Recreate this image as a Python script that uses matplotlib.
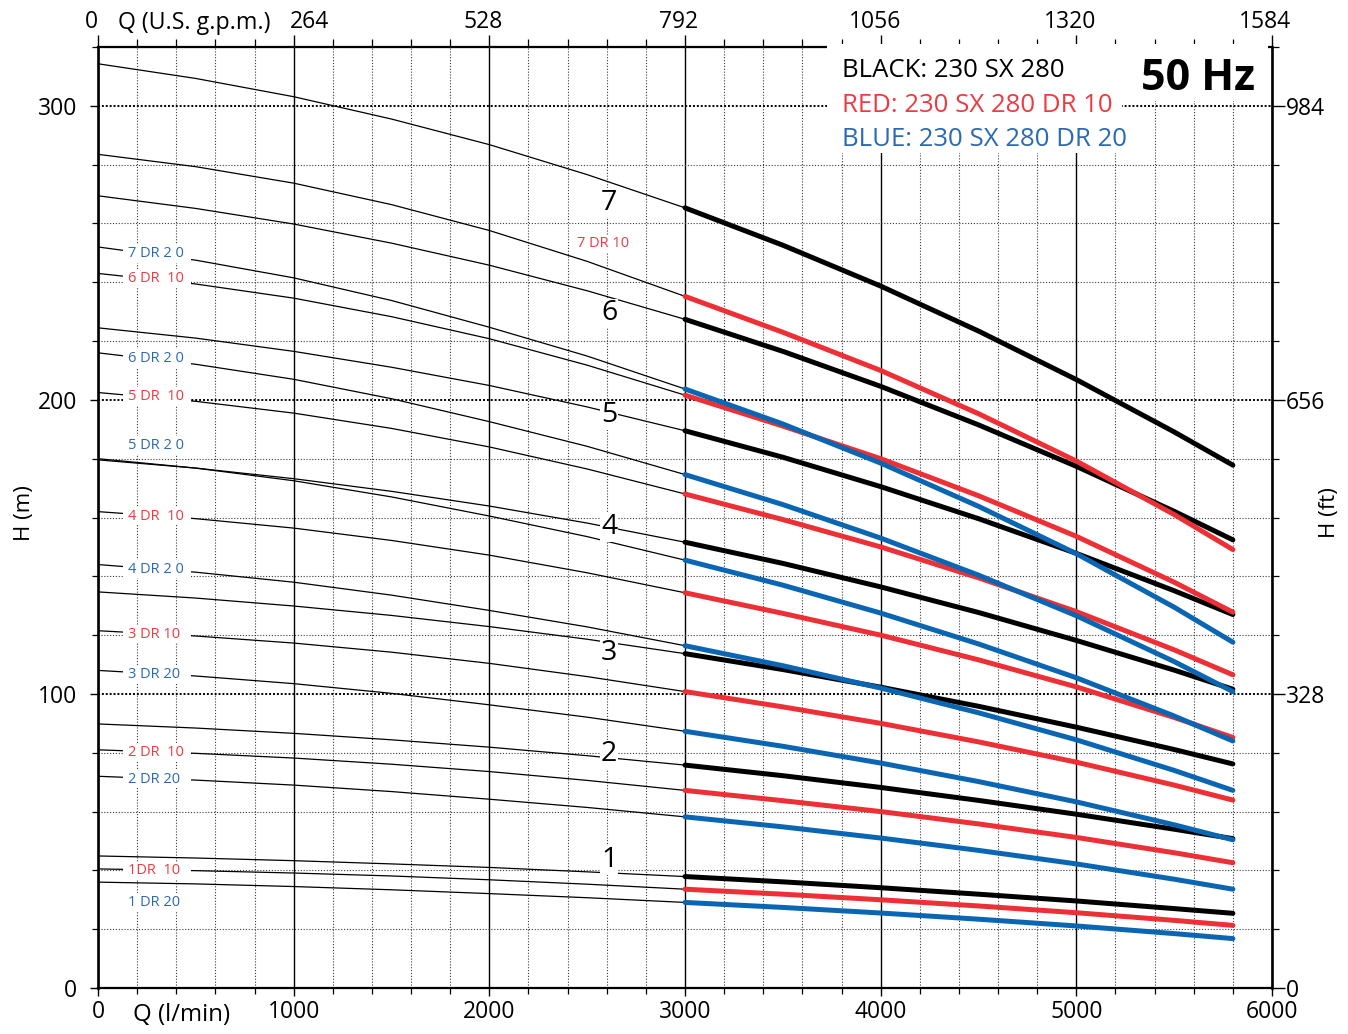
import numpy as np
import matplotlib
matplotlib.use("Agg")
import matplotlib.pyplot as plt
import matplotlib.transforms as mtransforms
from matplotlib.patches import Rectangle
from matplotlib.ticker import MultipleLocator, FixedLocator

plt.rcParams['font.family'] = ['Open Sans', 'DejaVu Sans']

### Data ###
q_lmin = [0, 500, 1000, 1500, 2000, 2500, 3000, 3500, 4000, 4500, 5000, 5500, 5800]
q_split = 3000          # thin black part below, thick coloured part above
stages = [1, 2, 3, 4, 5, 6, 7]

# BLACK: 230 SX 280, one row per number of stages (1..7), head in m
black_h = [
    [44.9, 44.2, 43.3, 42.2, 41.0, 39.5, 37.9, 36.1, 34.1, 31.9, 29.6, 27.0, 25.4],
    [89.8, 88.4, 86.6, 84.4, 81.9, 79.0, 75.8, 72.2, 68.2, 63.8, 59.1, 54.0, 50.8],
    [134.7, 132.6, 129.9, 126.7, 122.9, 118.6, 113.7, 108.3, 102.3, 95.8, 88.7, 81.1, 76.2],
    [179.6, 176.8, 173.2, 168.9, 163.9, 158.1, 151.6, 144.4, 136.4, 127.7, 118.2, 108.1, 101.6],
    [224.5, 221.0, 216.5, 211.1, 204.9, 197.6, 189.5, 180.5, 170.5, 159.6, 147.8, 135.1, 127.0],
    [269.4, 265.1, 259.8, 253.3, 245.8, 237.1, 227.4, 216.5, 204.6, 191.5, 177.4, 162.1, 152.4],
    [314.3, 309.3, 303.1, 295.5, 286.8, 276.6, 265.3, 252.6, 238.7, 223.4, 206.9, 189.1, 177.8],
]

# RED: 230 SX 280 DR 10
red_h = [
    [40.5, 39.9, 39.1, 38.1, 36.8, 35.3, 33.6, 31.9, 30.0, 27.9, 25.6, 23.0, 21.3],
    [81.0, 79.8, 78.2, 76.1, 73.6, 70.6, 67.2, 63.7, 60.0, 55.8, 51.2, 46.0, 42.6],
    [121.5, 119.7, 117.3, 114.2, 110.4, 105.9, 100.8, 95.6, 90.0, 83.7, 76.8, 69.0, 63.9],
    [162.0, 159.6, 156.4, 152.2, 147.2, 141.2, 134.4, 127.4, 120.0, 111.6, 102.4, 92.0, 85.2],
    [202.5, 199.5, 195.5, 190.3, 184.0, 176.5, 168.0, 159.3, 150.0, 139.5, 128.0, 115.0, 106.5],
    [243.0, 239.4, 234.6, 228.3, 220.8, 211.8, 201.6, 191.1, 180.0, 167.4, 153.6, 138.0, 127.8],
    [283.5, 279.3, 273.7, 266.4, 257.6, 247.1, 235.2, 223.0, 210.0, 195.3, 179.2, 161.0, 149.1],
]

# BLUE: 230 SX 280 DR 20
blue_h = [
    [36.0, 35.4, 34.5, 33.4, 32.1, 30.7, 29.1, 27.4, 25.5, 23.4, 21.1, 18.5, 16.8],
    [72.0, 70.7, 69.0, 66.8, 64.2, 61.4, 58.2, 54.8, 51.0, 46.8, 42.2, 37.0, 33.6],
    [108.0, 106.1, 103.5, 100.2, 96.3, 92.1, 87.3, 82.2, 76.5, 70.2, 63.3, 55.5, 50.4],
    [144.0, 141.4, 138.0, 133.6, 128.4, 122.8, 116.4, 109.6, 102.0, 93.6, 84.4, 74.0, 67.2],
    [180.0, 176.8, 172.5, 167.0, 160.5, 153.5, 145.5, 137.0, 127.5, 117.0, 105.5, 92.5, 84.0],
    [216.0, 212.1, 207.0, 200.4, 192.6, 184.2, 174.6, 164.4, 153.0, 140.4, 126.6, 111.0, 100.8],
    [252.0, 247.5, 241.5, 233.8, 224.7, 214.9, 203.7, 191.8, 178.5, 163.8, 147.7, 129.5, 117.6],
]

# curve labels on the left side
dr_labels = ["7 DR 2 0", "6 DR  10", "6 DR 2 0", "5 DR  10", "5 DR 2 0", "4 DR  10",
             "4 DR 2 0", "3 DR 10", "3 DR 20", "2 DR  10", "2 DR 20", "1DR  10", "1 DR 20"]
dr_kind = ["b", "r", "b", "r", "b", "r", "b", "r", "b", "r", "b", "r", "b"]

# axis tick labels
q_ticks = [0, 1000, 2000, 3000, 4000, 5000, 6000]
gpm_labels = ["0", "264", "528", "792", "1056", "1320", "1584"]
h_ticks = [0, 100, 200, 300]
ft_labels = ["0", "328", "656", "984"]

legend_lines = ["BLACK: 230 SX 280", "RED: 230 SX 280 DR 10", "BLUE: 230 SX 280 DR 20"]

### Layout / style ###
RED = "#ec3036"
BLUE = "#0a66b2"
RED_TXT = "#ee3a40"
BLUE_TXT = "#2b69b2"
TICK_FS = 16.5

dr_label_y = [249.7, 241.2, 214.1, 201.2, 184.5, 160.4, 142.4, 120.3, 106.7, 80.2, 71.0, 39.8, 29.2]
stage_label_y = [43.5, 79.5, 113.8, 156.6, 194.7, 229.4, 267.1]
gpm_label_dx = [-7, 16, -6, -6, -6, -6, -7]   # pixel shift of the top labels

fig = plt.figure(figsize=(13.48, 10.34), dpi=100)
ax = fig.add_axes([98 / 1348, 1 - 988 / 1034, (1272 - 98) / 1348, (988 - 47) / 1034])
ax.set_xlim(0, 6000)
ax.set_ylim(0, 320)

# grid
ax.xaxis.set_major_locator(FixedLocator(q_ticks))
ax.xaxis.set_minor_locator(MultipleLocator(200))
ax.yaxis.set_major_locator(FixedLocator(h_ticks))
ax.yaxis.set_minor_locator(MultipleLocator(20))
ax.grid(which="minor", axis="both", color="#3a3a3a", lw=0.8, ls=(0, (1, 1.6)), zorder=1)
ax.grid(which="major", axis="x", color="black", lw=1.0, ls="-", zorder=1)
ax.grid(which="major", axis="y", color="black", lw=1.4, ls=(0, (1, 1)), zorder=1)
ax.set_axisbelow(True)

for side in ["left", "right"]:
    ax.spines[side].set_linewidth(1.9)
for side in ["top", "bottom"]:
    ax.spines[side].set_linewidth(1.6)

ax.tick_params(axis="both", which="major", direction="out", labelsize=TICK_FS, width=1.0, length=6)
ax.tick_params(axis="both", which="minor", direction="out", width=0.9, length=4)
ax.tick_params(axis="y", which="major", pad=9)
ax.tick_params(axis="x", which="major", pad=3)
ax.set_xticklabels([str(t) for t in q_ticks])
ax.set_yticklabels([str(t) for t in h_ticks])

# secondary axes: US gpm on top, feet on right
top = ax.secondary_xaxis("top", functions=(lambda q: q * 0.264, lambda g: g / 0.264))
top.xaxis.set_major_locator(FixedLocator([0, 264, 528, 792, 1056, 1320, 1584]))
top.xaxis.set_minor_locator(MultipleLocator(52.8))
top.set_xticklabels([""] * len(gpm_labels))
top.spines["top"].set_visible(False)
top.tick_params(which="major", direction="out", length=9, width=1.0)
top.tick_params(which="minor", direction="out", length=6, width=0.9)

# top labels placed by hand so that "264" clears the axis title, as in the original
xform = ax.get_xaxis_transform()
for qt, lab, dx in zip(q_ticks, gpm_labels, gpm_label_dx):
    t = xform + mtransforms.ScaledTranslation(dx / 100, 0, fig.dpi_scale_trans)
    ax.text(qt, (988 - 22) / 941, lab, transform=t, fontsize=TICK_FS,
            ha="center", va="center", clip_on=False)

right = ax.secondary_yaxis("right", functions=(lambda m: m * 3.28, lambda f: f / 3.28))
right.yaxis.set_major_locator(FixedLocator([0, 328, 656, 984]))
right.yaxis.set_minor_locator(MultipleLocator(65.6))
right.set_yticklabels(ft_labels)
right.spines["right"].set_visible(False)
right.tick_params(which="major", direction="out", length=9, width=1.0, labelsize=TICK_FS, pad=1)
right.tick_params(which="minor", direction="out", length=5, width=0.9)

# pump curves
q = np.array(q_lmin)
lo = q <= q_split
hi = q >= q_split
for series, col in ((black_h, "black"), (red_h, RED), (blue_h, BLUE)):
    for h in series:
        h = np.array(h)
        ax.plot(q[lo], h[lo], color="black", lw=0.9, zorder=4)
        ax.plot(q[hi], h[hi], color=col, lw=3.6, solid_capstyle="round", zorder=5)

# left-side labels with white background
for txt, kind, y in zip(dr_labels, dr_kind, dr_label_y):
    ax.add_patch(Rectangle((128, y - 3.1), 347, 6.2, facecolor="white", edgecolor="none", zorder=6))
    ax.text(153, y, txt, color=BLUE_TXT if kind == "b" else RED_TXT, fontsize=10.5,
            ha="left", va="center", zorder=7)

ax.text(2581, 253.1, "7 DR 10", color=RED_TXT, fontsize=10.5, ha="center", va="center", zorder=7,
        bbox=dict(facecolor="white", edgecolor="none", pad=1))

# stage numbers
for n, y in zip(stages, stage_label_y):
    ax.text(2612, y, str(n), fontsize=20.5, ha="center", va="center", zorder=7,
            bbox=dict(facecolor="white", edgecolor="none", pad=0.5))

# legend box (covers the grid and the top frame)
ax.add_patch(Rectangle((3726, 301.7), 5979 - 3726, 19.2, facecolor="white", edgecolor="none",
                       zorder=3, clip_on=False))
ax.add_patch(Rectangle((3726, 284.1), 5233 - 3726, 36.8, facecolor="white", edgecolor="none",
                       zorder=3, clip_on=False))
for txt, col, y in zip(legend_lines, ["black", RED_TXT, BLUE_TXT], [311.9, 300.0, 288.5]):
    ax.text(3802, y, txt, color=col, fontsize=18.5, ha="left", va="center", zorder=7)
ax.text(5622, 309.4, "50 Hz", fontsize=31, fontweight="bold", ha="center", va="center", zorder=7)

# axis titles
fig.text(118 / 1348, 1 - 23 / 1034, "Q (U.S. g.p.m.)", fontsize=16.7, ha="left", va="center")
fig.text(133 / 1348, 1 - 1015 / 1034, "Q (l/min)", fontsize=17.3, ha="left", va="center")
fig.text(25 / 1348, 1 - 513 / 1034, "H (m)", fontsize=16, rotation=90, ha="center", va="center")
fig.text(1330 / 1348, 1 - 513 / 1034, "H (ft)", fontsize=16, rotation=90, ha="center", va="center")

plt.savefig("out.png", dpi=100)
